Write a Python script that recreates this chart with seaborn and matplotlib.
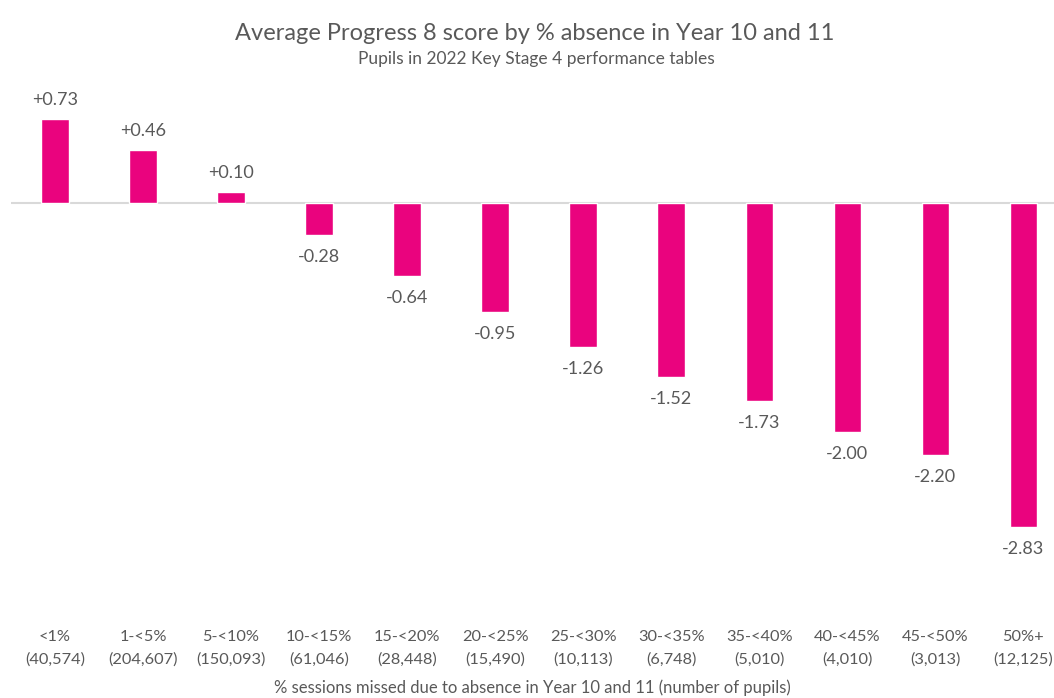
import matplotlib
matplotlib.use("Agg")
import matplotlib.pyplot as plt
import seaborn as sns
import pandas as pd

categories = ["<1%", "1-<5%", "5-<10%", "10-<15%", "15-<20%", "20-<25%",
              "25-<30%", "30-<35%", "35-<40%", "40-<45%", "45-<50%", "50%+"]
pupils = ["(40,574)", "(204,607)", "(150,093)", "(61,046)", "(28,448)", "(15,490)",
          "(10,113)", "(6,748)", "(5,010)", "(4,010)", "(3,013)", "(12,125)"]
scores = [0.73, 0.46, 0.10, -0.28, -0.64, -0.95, -1.26, -1.52, -1.73, -2.00, -2.20, -2.83]

PINK = "#EA037E"
GREY = "#595959"

sns.set_theme(style="white")
plt.rcParams["font.family"] = ["Lato", "DejaVu Sans"]

df = pd.DataFrame({"cat": categories, "score": scores})

fig = plt.figure(figsize=(10.54, 6.98), dpi=100)
ax = fig.add_axes([11 / 1054, 1 - 622 / 698, 1 - 11 / 1054, (622 - 90) / 698])

sns.barplot(data=df, x="cat", y="score", color=PINK, saturation=1, width=0.31, ax=ax)

ax.set_xlim(-0.5, 11.35)
ax.set_ylim(-(622 - 203) / 114.5, (203 - 90) / 114.5)
ax.axhline(0, color="#D9D9D9", lw=1.5, zorder=0)

for i, v in enumerate(scores):
    lbl = f"+{v:.2f}" if v > 0 else f"{v:.2f}"
    off = 19 if v > 0 else -22
    ax.annotate(lbl, (i, v), xytext=(0, off * 0.72), textcoords="offset points",
                ha="center", va="center", fontsize=13, color=GREY)

ax.set_xticks(range(len(categories)))
ax.set_xticklabels([f"{c}\n{p}" for c, p in zip(categories, pupils)],
                   fontsize=11.8, color=GREY, linespacing=1.7)
ax.tick_params(axis="x", length=0, pad=6)
ax.set_yticks([])
ax.set_ylabel("")
ax.set_xlabel("% sessions missed due to absence in Year 10 and 11 (number of pupils)",
              fontsize=12, color=GREY, labelpad=9)
for s in ax.spines.values():
    s.set_visible(False)

fig.text(535 / 1054, 1 - 33 / 698, "Average Progress 8 score by % absence in Year 10 and 11",
         ha="center", va="center", fontsize=17, color=GREY)
fig.text(536 / 1054, 1 - 59 / 698, "Pupils in 2022 Key Stage 4 performance tables",
         ha="center", va="center", fontsize=12.5, color=GREY)

fig.savefig("out.png", dpi=100)
